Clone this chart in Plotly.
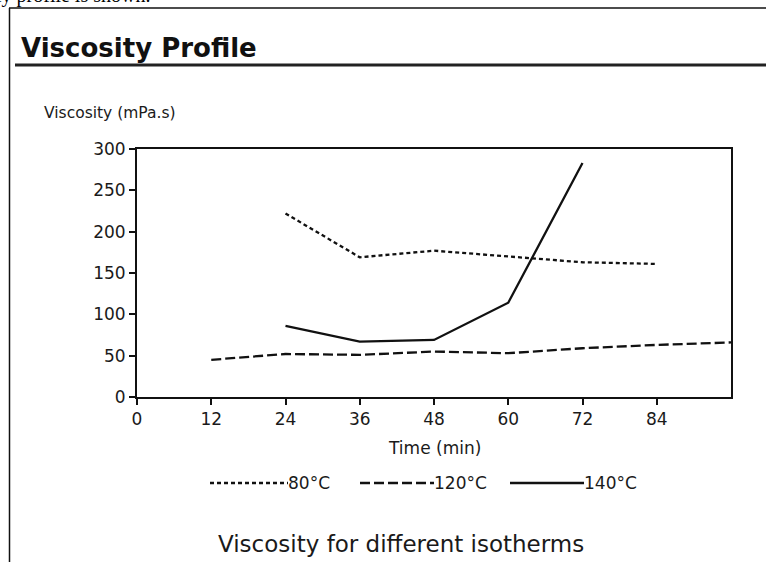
import plotly.graph_objects as go

# ---- data ----
time_min = [12, 24, 36, 48, 60, 72, 84, 96]
visc_80 = [None, 222, 169, 177, 170, 163, 161, None]
visc_120 = [45, 52, 51, 55, 53, 59, 63, 66]
visc_140 = [None, 86, 67, 69, 114, 283, None, None]
x_ticks = [0, 12, 24, 36, 48, 60, 72, 84]
y_ticks = [0, 50, 100, 150, 200, 250, 300]
series_names = ["80°C", "120°C", "140°C"]

W, H = 766, 562
L, R, T, B = 137, 35, 149, 165
PW = W - L - R
PH = H - T - B

def fx(px):
    return (px - L) / PW

def fy(py):
    return (H - B - py) / PH

FONT = "DejaVu Sans, Arial, sans-serif"
DOT = "4px,3px"
DASH = "10px,4px"

fig = go.Figure()
fig.add_trace(go.Scatter(x=time_min, y=visc_80, mode="lines", name=series_names[0],
                         line=dict(color="#111", width=2.3, dash=DOT), connectgaps=False))
fig.add_trace(go.Scatter(x=time_min, y=visc_120, mode="lines", name=series_names[1],
                         line=dict(color="#111", width=2.3, dash=DASH)))
fig.add_trace(go.Scatter(x=time_min, y=visc_140, mode="lines", name=series_names[2],
                         line=dict(color="#111", width=2.3)))

shapes = []
annotations = []

# page frame lines
shapes.append(dict(type="line", xref="paper", yref="paper", x0=fx(9), x1=fx(770), y0=fy(8), y1=fy(8),
                   line=dict(color="#111", width=1.5)))
shapes.append(dict(type="line", xref="paper", yref="paper", x0=fx(9.5), x1=fx(9.5), y0=fy(8), y1=fy(570),
                   line=dict(color="#111", width=1.5)))
# thick rule under heading
shapes.append(dict(type="line", xref="paper", yref="paper", x0=fx(15), x1=fx(770), y0=fy(65), y1=fy(65),
                   line=dict(color="#222", width=3)))

# legend keys (drawn manually)
leg_y = fy(483)
legend_items = [
    (210, 288, DOT, series_names[0]),
    (360, 434, DASH, series_names[1]),
    (510, 584, "solid", series_names[2]),
]
for x0, x1, dash, name in legend_items:
    shapes.append(dict(type="line", xref="paper", yref="paper", x0=fx(x0), x1=fx(x1), y0=leg_y, y1=leg_y,
                       line=dict(color="#111", width=2.3, dash=dash)))
    annotations.append(dict(xref="paper", yref="paper", x=fx(x1), y=leg_y, text=name, showarrow=False,
                            xanchor="left", yanchor="middle", font=dict(family=FONT, size=17, color="#1a1a1a"),
                            xshift=-2))

# texts
annotations.append(dict(xref="paper", yref="paper", x=fx(-6), y=fy(9), text="ly profile is shown.",
                        showarrow=False, xanchor="left", yanchor="bottom",
                        font=dict(family="Liberation Serif, serif", size=20, color="#000")))
annotations.append(dict(xref="paper", yref="paper", x=fx(19), y=fy(48), text="<b>Viscosity Profile</b>",
                        showarrow=False, xanchor="left", yanchor="middle",
                        font=dict(family=FONT, size=26, color="#111")))
annotations.append(dict(xref="paper", yref="paper", x=fx(42), y=fy(113), text="Viscosity (mPa.s)",
                        showarrow=False, xanchor="left", yanchor="middle",
                        font=dict(family=FONT, size=15.5, color="#1a1a1a")))
annotations.append(dict(xref="paper", yref="paper", x=fx(434), y=fy(448), text="Time (min)",
                        showarrow=False, xanchor="center", yanchor="middle",
                        font=dict(family=FONT, size=17, color="#1a1a1a")))
annotations.append(dict(xref="paper", yref="paper", x=fx(401), y=fy(544), text="Viscosity for different isotherms",
                        showarrow=False, xanchor="center", yanchor="middle",
                        font=dict(family=FONT, size=23, color="#1a1a1a")))

fig.update_layout(
    width=W, height=H,
    margin=dict(l=L, r=R, t=T, b=B, pad=0),
    paper_bgcolor="white", plot_bgcolor="white",
    showlegend=False,
    shapes=shapes, annotations=annotations,
    font=dict(family=FONT, color="#1a1a1a"),
)
fig.update_xaxes(range=[0, 96], tickvals=x_ticks, ticktext=[str(v) for v in x_ticks],
                 showgrid=False, zeroline=False, showline=True, linecolor="#111", linewidth=2,
                 mirror=True, ticks="outside", ticklen=6, tickwidth=1.5, tickcolor="#111",
                 tickfont=dict(family=FONT, size=17, color="#1a1a1a"))
fig.update_yaxes(range=[0, 300], tickvals=y_ticks,
                 showgrid=False, zeroline=False, showline=True, linecolor="#111", linewidth=2,
                 mirror=True, ticks="outside", ticklen=6, tickwidth=1.5, tickcolor="#111",
                 tickfont=dict(family=FONT, size=17, color="#1a1a1a"))

fig.write_html("out.html", config={"displayModeBar": False},
               post_script="document.body.style.margin='0';document.body.style.overflow='hidden';")
